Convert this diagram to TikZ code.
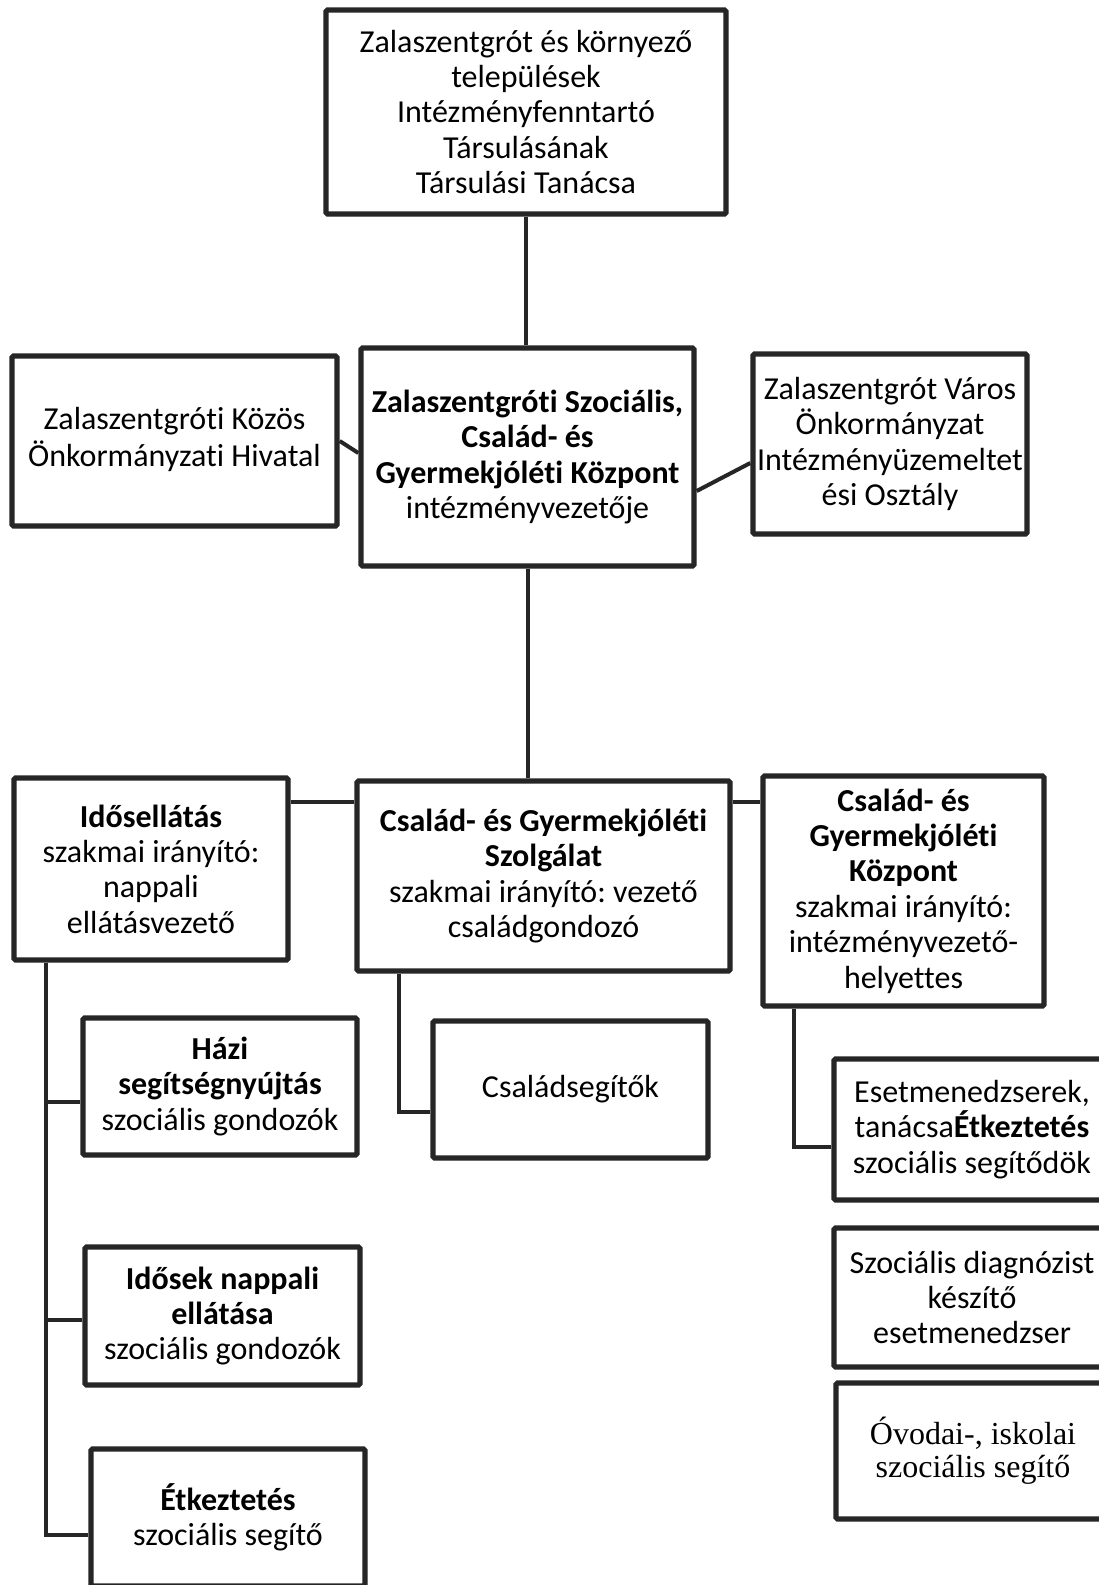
\documentclass[tikz,border=0pt]{standalone}
\usepackage{fontspec}
\setmainfont{Carlito}[Ligatures={NoCommon}, RawFeature={-liga,-clig,-calt,-dlig}]
\newfontfamily\tnr{Liberation Serif}
\usetikzlibrary{shadows,calc,backgrounds}
\frenchspacing
\begin{document}
\begin{tikzpicture}[x=0.5pt,y=-0.5pt,
  orgbox/.style={draw=black!85, line width=2.7pt, fill=white, align=center, inner sep=0pt,
    rounded corners=0.8pt,
    drop shadow={shadow xshift=1pt, shadow yshift=-1pt, opacity=0.3, fill=black},
    font=\fontsize{16}{17.7}\selectfont},
  conn/.style={draw=black!85, line width=2pt}]
\useasboundingbox (0,0) rectangle (1098,1585);

% connector helper coordinates
\coordinate (hr) at (0,802);
\coordinate (jH) at (45.5,1102);
\coordinate (jI) at (45.5,1320);
\coordinate (jE) at (45.5,1535);
\coordinate (jC) at (399,1112);
\coordinate (jR) at (794,1147);

\path
 node[orgbox, minimum width=200pt, minimum height=102pt] (top) at (526,112)
  {Zalaszentgrót és környező\\települések\\Intézményfenntartó\\Társulásának\\Társulási Tanácsa}
 node[orgbox, minimum width=162.5pt, minimum height=85pt] (L) at (174.5,441)
  {\raisebox{5pt}{\begin{tabular}{@{}c@{}}Zalaszentgróti Közös\\Önkormányzati Hivatal\end{tabular}}}
 node[orgbox, minimum width=166.5pt, minimum height=109pt] (C) at (527.5,457)
  {\textbf{Zalaszentgróti Szociális,}\\\textbf{Család- és}\\\textbf{Gyermekjóléti Központ}\\intézményvezetője}
 node[orgbox, minimum width=137pt, minimum height=90pt] (R) at (890,444)
  {Zalaszentgrót Város\\Önkormányzat\\Intézményüzemeltet\\ési Osztály}
 node[orgbox, minimum width=137pt, minimum height=91pt] (R3L) at (151,869)
  {\textbf{Idősellátás}\\szakmai irányító:\\nappali\\ellátásvezető}
 node[orgbox, minimum width=186.5pt, minimum height=95pt] (R3C) at (543.5,876)
  {\textbf{Család- és Gyermekjóléti}\\\textbf{Szolgálat}\\szakmai irányító: vezető\\családgondozó}
 node[orgbox, minimum width=140.5pt, minimum height=115pt] (R3R) at (903.5,891)
  {\textbf{Család- és}\\\textbf{Gyermekjóléti}\\\textbf{Központ}\\szakmai irányító:\\intézményvezető-\\helyettes}
 node[orgbox, minimum width=137pt, minimum height=68.5pt] (Hazi) at (220,1086.5)
  {\textbf{Házi}\\\textbf{segítségnyújtás}\\szociális gondozók}
 node[orgbox, minimum width=137.5pt, minimum height=69pt] (Ido) at (222.5,1316)
  {\textbf{Idősek nappali}\\\textbf{ellátása}\\szociális gondozók}
 node[orgbox, minimum width=137pt, minimum height=68.5pt] (Etk) at (228,1517.5)
  {\textbf{Étkeztetés}\\szociális segítő}
 node[orgbox, minimum width=137.5pt, minimum height=68.5pt] (Csal) at (570.5,1089.5)
  {Családsegítők}
 node[orgbox, minimum width=138pt, minimum height=70.5pt] (Eset) at (972,1129.5)
  {Esetmenedzserek,\\tanácsa\textbf{Étkeztetés}\\szociális segítődök}
 node[orgbox, minimum width=138pt, minimum height=69.5pt] (Diag) at (972,1297.5)
  {Szociális diagnózist\\készítő\\esetmenedzser}
 node[orgbox, minimum width=137pt, minimum height=68pt, font=\tnr\fontsize{16}{16.5}\selectfont] (Ovod) at (973,1451)
  {Óvodai-, iskolai\\szociális segítő};

% connectors
\begin{pgfonlayer}{background}
\draw[conn] (top.south) -- (top.south |- C.north);
\draw[conn] (L.east) -- ($(C.west)+(0,-4)$);
\draw[conn] ($(C.east)+(0,34)$) -- ($(R.west)+(0,19)$);
\draw[conn] (C.south) -- (C.south |- R3C.north);
\draw[conn] (R3L.east |- hr) -- (R3C.west |- hr);
\draw[conn] (R3C.east |- hr) -- (R3R.west |- hr);
\draw[conn] (jH |- R3L.south) -- (jE) -- (jE -| Etk.west);
\draw[conn] (jH) -- (jH -| Hazi.west);
\draw[conn] (jI) -- (jI -| Ido.west);
\draw[conn] (jC |- R3C.south) -- (jC) -- (jC -| Csal.west);
\draw[conn] (jR |- R3R.south) -- (jR) -- (jR -| Eset.west);
\end{pgfonlayer}
\end{tikzpicture}
\end{document}
